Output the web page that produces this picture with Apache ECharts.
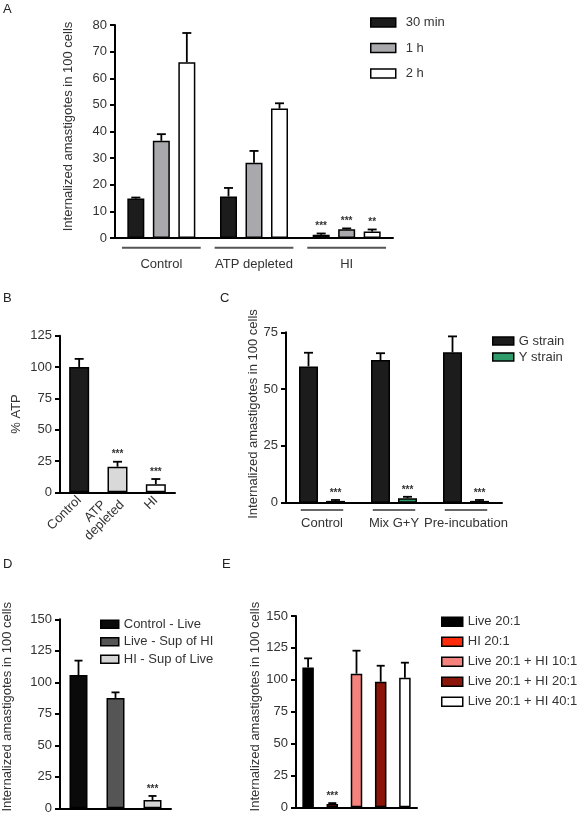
<!DOCTYPE html>
<html><head><meta charset="utf-8">
<script src="https://cdn.jsdelivr.net/npm/echarts@6/dist/echarts.min.js"></script>
<style>html,body{margin:0;padding:0;background:#fff}#c{width:577px;height:820px}</style>
</head><body><div id="c"></div>
<script>
// ---------- Panel A ----------
const aCategories = ['Control', 'ATP depleted', 'HI'];
const aSeriesNames = ['30 min', '1 h', '2 h'];
const a30min = [14.8, 15.6, 1.2];
const a30minSd = [0.4, 3.2, 0.5];
const a30minStars = ['', '', '***'];
const a1h = [36.5, 28.3, 3.3];
const a1hSd = [2.5, 4.4, 0.3];
const a1hStars = ['', '', '***'];
const a2h = [66, 48.6, 2.4];
const a2hSd = [11, 2.0, 0.8];
const a2hStars = ['', '', '**'];
const aTicks = [0, 10, 20, 30, 40, 50, 60, 70, 80];

// ---------- Panel B ----------
const bCategories = ['Control', 'ATP\ndepleted', 'HI'];
const bValues = [100, 20.4, 6.4];
const bSd = [6.5, 4.0, 4.2];
const bStars = ['', '***', '***'];
const bTicks = [0, 25, 50, 75, 100, 125];

// ---------- Panel C ----------
const cCategories = ['Control', 'Mix G+Y', 'Pre-incubation'];
const cSeriesNames = ['G strain', 'Y strain'];
const cG = [60, 62.8, 66.2];
const cGSd = [6, 3, 7];
const cGStars = ['', '', ''];
const cY = [0.8, 2.0, 0.8];
const cYSd = [0.4, 0.6, 0.4];
const cYStars = ['***', '***', '***'];
const cTicks = [0, 25, 50, 75];

// ---------- Panel D ----------
const dNames = ['Control - Live', 'Live - Sup of HI', 'HI - Sup of Live'];
const dValues = [105.8, 87.6, 6.6];
const dSd = [11.4, 4.4, 3.2];
const dStars = ['', '', '***'];
const dTicks = [0, 25, 50, 75, 100, 125, 150];

// ---------- Panel E ----------
const eNames = ['Live 20:1', 'HI 20:1', 'Live 20:1 + HI 10:1', 'Live 20:1 + HI 20:1', 'Live 20:1 + HI 40:1'];
const eValues = [109.7, 2.5, 104.8, 98.5, 101.6];
const eSd = [7.1, 0.8, 18, 12.5, 11.8];
const eStars = ['', '***', '', '', ''];
const eTicks = [0, 25, 50, 75, 100, 125, 150];

// ---------- styles ----------
const FONT = '"Liberation Sans", Arial, Helvetica, sans-serif';
const TXT = '#333';
const aColors = ['#1c1c1c', '#a9a9ad', '#ffffff'];
const bColors = ['#1c1c1c', '#d9d9d9', '#ffffff'];
const cColors = ['#1c1c1c', '#2e9c6a'];
const dColors = ['#0a0a0a', '#555555', '#d4d4d4'];
const eColors = ['#000000', '#ff2a0a', '#f6827d', '#8a1508', '#ffffff'];

function yAxis(gi, ticks, name, nameGap, shiftUp) {
  return {
    type: 'value', gridIndex: gi, min: ticks[0], max: ticks[ticks.length - 1],
    interval: ticks[1] - ticks[0],
    name: name, nameLocation: 'middle', nameGap: nameGap, nameRotate: 90,
    nameTextStyle: { fontSize: 13, color: TXT, fontFamily: FONT, padding: [0, 0, 0, shiftUp || 0] },
    axisLine: { show: true, lineStyle: { color: '#000', width: 2 } },
    axisTick: { show: true, length: 5, lineStyle: { color: '#000', width: 2 } },
    axisLabel: { fontSize: 13, color: TXT, fontFamily: FONT, margin: 8 },
    splitLine: { show: false }
  };
}
function xAxis(gi, data, label) {
  return Object.assign({
    type: 'category', gridIndex: gi, data: data,
    axisLine: { show: true, lineStyle: { color: '#000', width: 2 } },
    axisTick: { show: false },
    axisLabel: { show: false },
    splitLine: { show: false }
  }, label ? { axisLabel: Object.assign({ show: true, fontSize: 13, color: TXT, fontFamily: FONT, interval: 0 }, label) } : {});
}
function errSeries(gi, means, sds, stars, nSeries, idx, barW, gapFrac, capW) {
  return {
    type: 'custom', xAxisIndex: gi, yAxisIndex: gi, z: 5, silent: true, clip: false,
    data: means.map((m, i) => [i, m, sds[i]]),
    renderItem: function (params, api) {
      const cat = api.value(0), m = api.value(1), sd = api.value(2);
      const p0 = api.coord([cat, m]);
      const p1 = api.coord([cat, m + sd]);
      const total = nSeries * barW + (nSeries - 1) * gapFrac * barW;
      const x = p0[0] - total / 2 + barW / 2 + idx * barW * (1 + gapFrac);
      const ch = [];
      if (sd > 0) {
        ch.push({ type: 'line', shape: { x1: x, y1: p0[1], x2: x, y2: p1[1] }, style: { stroke: '#000', lineWidth: 1.8 } });
        ch.push({ type: 'line', shape: { x1: x - capW / 2, y1: p1[1], x2: x + capW / 2, y2: p1[1] }, style: { stroke: '#000', lineWidth: 1.8 } });
      }
      const s = stars[params.dataIndex];
      if (s) {
        ch.push({ type: 'text', x: x, y: p1[1] - 2,
          style: { text: s, fill: '#333', font: 'bold 10px ' + FONT, align: 'center', verticalAlign: 'bottom', textAlign: 'center', textVerticalAlign: 'bottom' } });
      }
      return { type: 'group', children: ch };
    }
  };
}
function underlineSeries(gi, n, frac, dy, color, lw) {
  const d = [];
  for (let i = 0; i < n; i++) d.push([i, 0]);
  return {
    type: 'custom', xAxisIndex: gi, yAxisIndex: gi, silent: true, clip: false, data: d,
    renderItem: function (params, api) {
      const p = api.coord([api.value(0), 0]);
      const w = api.size([1, 0])[0] * frac;
      return { type: 'line', shape: { x1: p[0] - w / 2, y1: p[1] + dy, x2: p[0] + w / 2, y2: p[1] + dy }, style: { stroke: color, lineWidth: lw } };
    }
  };
}
function barStyle(color) { return { color: color, borderColor: '#000', borderWidth: 1.5 }; }
function legend(names, left, top, gap, iw, ih, extraPad) {
  return {
    data: names, orient: 'vertical', left: left, top: top, itemGap: gap,
    itemWidth: iw, itemHeight: ih, icon: 'rect', padding: 0, selectedMode: false,
    textStyle: { fontSize: 13, color: TXT, fontFamily: FONT, padding: [0, 0, 0, extraPad || 0] },
    itemStyle: { borderColor: '#000', borderWidth: 1.5 }
  };
}
function letter(t, left, top) {
  return { text: t, left: left, top: top, padding: 0, textStyle: { fontSize: 13, fontWeight: 'normal', color: '#222', fontFamily: FONT } };
}

const series = [];
// A bars
[a30min, a1h, a2h].forEach((vals, i) => {
  series.push({ type: 'bar', name: aSeriesNames[i], xAxisIndex: 0, yAxisIndex: 0, data: vals,
    barWidth: 17, barGap: '50%', itemStyle: barStyle(aColors[i]) });
});
series.push(errSeries(0, a30min, a30minSd, a30minStars, 3, 0, 17, 0.5, 9));
series.push(errSeries(0, a1h, a1hSd, a1hStars, 3, 1, 17, 0.5, 9));
series.push(errSeries(0, a2h, a2hSd, a2hStars, 3, 2, 17, 0.5, 9));
series.push(underlineSeries(0, aCategories.length, 0.85, 9.7, '#555', 2));
// B bars
series.push({ type: 'bar', xAxisIndex: 1, yAxisIndex: 1, barWidth: 20,
  data: bValues.map((v, i) => ({ value: v, itemStyle: barStyle(bColors[i]) })) });
series.push(errSeries(1, bValues, bSd, bStars, 1, 0, 20, 0, 9));
// C bars
[cG, cY].forEach((vals, i) => {
  series.push({ type: 'bar', name: cSeriesNames[i], xAxisIndex: 2, yAxisIndex: 2, data: vals,
    barWidth: 19, barGap: '42%', itemStyle: barStyle(cColors[i]) });
});
series.push(errSeries(2, cG, cGSd, cGStars, 2, 0, 19, 0.42, 9));
series.push(errSeries(2, cY, cYSd, cYStars, 2, 1, 19, 0.42, 9));
series.push(underlineSeries(2, cCategories.length, 0.59, 7.3, '#333', 1.5));
// D bars
dNames.forEach((n, i) => {
  series.push({ type: 'bar', name: n, xAxisIndex: 3, yAxisIndex: 3, stack: 'd', barWidth: 18,
    data: dValues.map((v, j) => (j === i ? v : '-')), itemStyle: barStyle(dColors[i]) });
});
series.push(errSeries(3, dValues, dSd, dStars, 1, 0, 18, 0, 8));
// E bars
eNames.forEach((n, i) => {
  series.push({ type: 'bar', name: n, xAxisIndex: 4, yAxisIndex: 4, stack: 'e', barWidth: 11.5,
    data: eValues.map((v, j) => (j === i ? v : '-')), itemStyle: barStyle(eColors[i]) });
});
series.push(errSeries(4, eValues, eSd, eStars, 1, 0, 11.5, 0, 8));

const option = {
  animation: false,
  backgroundColor: '#fff',
  textStyle: { fontFamily: FONT },
  title: [letter('A', 3, 3), letter('B', 3, 292), letter('C', 220, 292), letter('D', 3, 558), letter('E', 222, 558)],
  grid: [
    { left: 115, top: 25, width: 278, height: 213, outerBoundsMode: 'none', containLabel: false },
    { left: 60, top: 335.7, width: 115, height: 156.6, outerBoundsMode: 'none', containLabel: false },
    { left: 286, top: 332.3, width: 216, height: 170.4, outerBoundsMode: 'none', containLabel: false },
    { left: 60, top: 619.3, width: 111, height: 189, outerBoundsMode: 'none', containLabel: false },
    { left: 296, top: 616, width: 121, height: 191.3, outerBoundsMode: 'none', containLabel: false }
  ],
  xAxis: [
    xAxis(0, aCategories, { margin: 20 }),
    xAxis(1, bCategories, { margin: 6, rotate: 45, lineHeight: 13,
      formatter: function (v) { return v.split('\n').map(s => '{c|' + s + '}').join('\n'); },
      rich: { c: { fontSize: 13, color: TXT, fontFamily: FONT, align: 'center', lineHeight: 13 } } }),
    xAxis(2, cCategories, { margin: 14 }),
    xAxis(3, dNames, null),
    xAxis(4, eNames, null)
  ],
  yAxis: [
    yAxis(0, aTicks, 'Internalized amastigotes in 100 cells', 40, 10),
    yAxis(1, bTicks, '% ATP', 37, 0),
    yAxis(2, cTicks, 'Internalized amastigotes in 100 cells', 23, 7),
    yAxis(3, dTicks, 'Internalized amastigotes in 100 cells', 46, 14),
    yAxis(4, eTicks, 'Internalized amastigotes in 100 cells', 32, 10)
  ],
  legend: [
    legend(aSeriesNames, 370, 16, 12.5, 25, 9, 5),
    legend(cSeriesNames, 492, 334.5, 3, 21, 8, 0),
    legend(dNames, 100, 617.8, 4.5, 18, 8, 0),
    legend(eNames, 441, 615.2, 7, 21, 9, 0)
  ],
  series: series
};
const chart = echarts.init(document.getElementById('c'), null, { renderer: 'canvas' });
chart.setOption(option);
</script>
</body></html>
